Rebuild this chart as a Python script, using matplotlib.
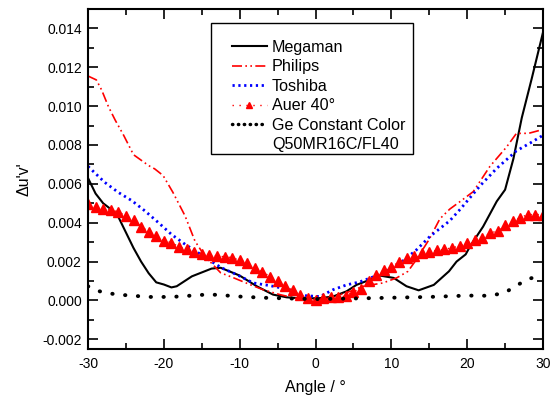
import matplotlib
matplotlib.use("Agg")
import matplotlib.pyplot as plt
from matplotlib.lines import Line2D
from matplotlib.patches import Rectangle
from matplotlib.ticker import MultipleLocator, FormatStrFormatter

# Megaman
mega_x = [-30, -29, -28, -27, -26, -25, -24, -23, -22, -21, -20, -19, -18.3, -16.3, -13.7,
          -12.5, -10, -7.75, -5.6, -3.8, -1.6, 0.6, 2.3, 4.1, 5.4, 6.75, 8.5, 10.3, 12,
          13.6, 15.6, 17.6, 18.6, 19.8, 20.4, 22.1, 23.9, 25, 26.1, 27.2, 28.5, 30]
mega_y = [0.0063, 0.0055, 0.0050, 0.0047, 0.0043, 0.0035, 0.0027, 0.0020, 0.0014, 0.00093,
          0.00082, 0.00067, 0.00073, 0.00124, 0.00164, 0.00168, 0.00128, 0.00073, 0.0003,
          0.00016, 0.0001, 0.00012, 0.0002, 0.00047, 0.0008, 0.001, 0.00128, 0.00116,
          0.00073, 0.00052, 0.0008, 0.0015, 0.002, 0.00237, 0.0028, 0.0038, 0.0051, 0.0057,
          0.0073, 0.0094, 0.0114, 0.0138]

# Philips
phil_x = [-30, -28.9, -28.2, -27.3, -26.4, -25.3, -24, -22, -21.2, -20.1, -18.8, -17.2,
          -15.9, -14.6, -12.5, -10.9, -8.6, -6.9, -4.7, -2.5, 0.1, 1.9, 4.1, 6.3, 8.9,
          10.7, 12.2, 13.3, 15, 16.4, 17.7, 19.1, 20.8, 23, 25.2, 26.5, 28.1, 30]
phil_y = [0.01155, 0.01135, 0.01083, 0.00997, 0.00927, 0.0085, 0.0075, 0.00694, 0.00677,
          0.00643, 0.00556, 0.00435, 0.00306, 0.00228, 0.00142, 0.00118, 0.00081, 0.00055,
          0.0003, 0.0001, 0.00004, 0.00012, 0.0004, 0.00073, 0.0009, 0.00116, 0.0015, 0.0021,
          0.00315, 0.0042, 0.0047, 0.0051, 0.0056, 0.0069, 0.0079, 0.0086, 0.0086, 0.0088]

# Toshiba
tosh_x = [-30, -27.8, -26, -24.2, -22.5, -20.7, -19, -17.2, -15.5, -13.7, -12.4, -10.4, -8.2,
          -6, -3.8, -1.2, 0.6, 2.3, 4.1, 5.8, 8.9, 11.1, 13.3, 15.1, 17.7, 19.1, 21.7, 23.9,
          26.5, 28.3, 30]
tosh_y = [0.0069, 0.00608, 0.00556, 0.00513, 0.00461, 0.004, 0.0034, 0.00289, 0.00246, 0.002,
          0.00168, 0.00133, 0.0009, 0.00076, 0.00059, 0.00024, 0.0002, 0.00055, 0.0008, 0.00095,
          0.0014, 0.0019, 0.0026, 0.0033, 0.0041, 0.0047, 0.0059, 0.0068, 0.0077, 0.0081,
          0.0085]

# Auer 40 deg, one point per degree
auer_x = list(range(-30, 31))
auer_y = [0.00496, 0.0048, 0.0047, 0.00465, 0.00456, 0.00435, 0.00412, 0.0038, 0.00354,
          0.00331, 0.00307, 0.00297, 0.00276, 0.00265, 0.0025, 0.0024, 0.00235, 0.00228,
          0.00225, 0.0022, 0.00207, 0.00192, 0.00168, 0.00148, 0.00123, 0.00098, 0.00073,
          0.00052, 0.0003, 0.00012, 0.00004, 0.0001, 0.00016, 0.00018, 0.00022, 0.00045,
          0.00059, 0.001, 0.00133, 0.00155, 0.00173, 0.00197, 0.00216, 0.00228, 0.00246,
          0.00251, 0.00258, 0.00263, 0.00271, 0.0028, 0.00297, 0.0031, 0.00323, 0.00346,
          0.00358, 0.00387, 0.00407, 0.00426, 0.00442, 0.00442, 0.00442]

# GE Constant Color
ge_x = [-30, -29, -27.5, -26, -24, -22, -20, -18, -16, -14, -12, -10, -7, -3.5, 0, 5, 10,
        15, 20, 23, 25, 26, 28, 30]
ge_y = [0.00073, 0.00052, 0.00038, 0.0003, 0.00024, 0.00018, 0.00018, 0.0002, 0.00026,
        0.00031, 0.00026, 0.0002, 0.00014, 0.0001, 0.00007, 0.0001, 0.00014, 0.00018,
        0.00025, 0.00024, 0.0004, 0.00065, 0.0011, 0.0013]

labels = ["Megaman", "Philips", "Toshiba", "Auer 40\u00b0", "Ge Constant Color", "Q50MR16C/FL40"]

plt.rcParams["font.family"] = ["Liberation Sans", "DejaVu Sans"]
plt.rcParams["axes.unicode_minus"] = False

fig = plt.figure(figsize=(5.5, 3.98), dpi=100)
ax = fig.add_axes([0.16, 0.1231, 0.8273, 0.8543])

philips_ls = (0, (6, 2, 1, 2, 1, 2))
ax.plot(mega_x, mega_y, color="black", lw=1.5)
ax.plot(phil_x, phil_y, color="red", lw=1.2, ls=philips_ls)
ax.plot(tosh_x, tosh_y, color="blue", lw=2.0, ls=(0, (0.8, 1.3)))
ax.plot(auer_x, auer_y, color="red", lw=1.0, ls=(0, (1, 4)),
        marker="^", ms=7, mec="red", mfc="red")
ax.plot(ge_x, ge_y, color="black", lw=2.8, ls=(0, (0.1, 3.2)),
        dash_capstyle="round")

ax.set_xlim(-30, 30)
ax.set_ylim(-0.0025, 0.015)
ax.xaxis.set_major_locator(MultipleLocator(10))
ax.xaxis.set_minor_locator(MultipleLocator(5))
ax.yaxis.set_major_locator(MultipleLocator(0.002))
ax.yaxis.set_minor_locator(MultipleLocator(0.001))
ax.yaxis.set_major_formatter(FormatStrFormatter("%.3f"))
ax.tick_params(which="both", direction="in", top=True, right=True, width=1.2,
               labelsize=10)
ax.tick_params(axis="y", pad=4.5)
ax.tick_params(axis="x", pad=6)
ax.tick_params(which="major", length=7)
ax.tick_params(which="minor", length=4)
for s in ax.spines.values():
    s.set_linewidth(1.5)

ax.set_xlabel("Angle / \u00b0", fontsize=11.5, labelpad=6)
ax.set_ylabel("\u0394u'v'", fontsize=11.5, labelpad=8)

# legend frame drawn separately (the original has uneven padding)
ax.add_patch(Rectangle((0.2703, 0.5726), 0.444, 0.3854, transform=ax.transAxes,
                       fill=True, facecolor="white", edgecolor="black", lw=1.0, zorder=4))

handles = [
    Line2D([], [], color="black", lw=1.5),
    Line2D([], [], color="red", lw=1.2, ls=philips_ls),
    Line2D([], [], color="blue", lw=2.0, ls=(0, (0.8, 1.3))),
    Line2D([], [], color="red", lw=1.0, ls=(0, (1, 4)), marker="^", ms=5),
    Line2D([], [], color="black", lw=2.5, ls=(0, (0.1, 1.6)), dash_capstyle="round"),
    Line2D([], [], color="none"),
]
leg = ax.legend(handles, labels, loc="upper left", bbox_to_anchor=(0.3158, 0.909),
                borderaxespad=0, borderpad=0, fontsize=11.6, frameon=False,
                handlelength=2.2, handletextpad=0.3, labelspacing=0.28)
leg.set_zorder(5)

fig.savefig("out.png", dpi=100)
